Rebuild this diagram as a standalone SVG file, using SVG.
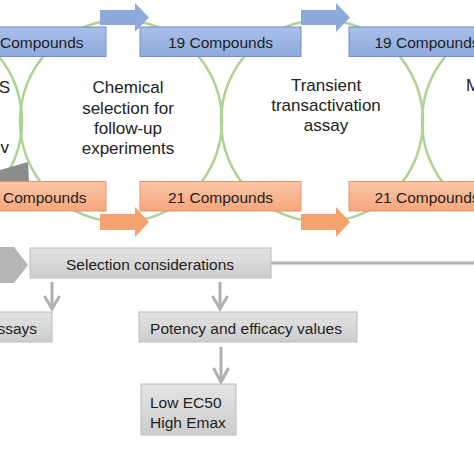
<svg xmlns="http://www.w3.org/2000/svg" width="474" height="474" viewBox="0 0 474 474">
<defs>
<linearGradient id="gb" x1="0" y1="0" x2="0" y2="1"><stop offset="0" stop-color="#a9c0e9"/><stop offset="1" stop-color="#8eaadc"/></linearGradient>
<linearGradient id="go" x1="0" y1="0" x2="0" y2="1"><stop offset="0" stop-color="#fbc6a8"/><stop offset="1" stop-color="#f6a67c"/></linearGradient>
<linearGradient id="gg" x1="0" y1="0" x2="0" y2="1"><stop offset="0" stop-color="#e4e4e4"/><stop offset="1" stop-color="#cdcdcd"/></linearGradient>
<style>
.circ{fill:none;stroke:#aed293;stroke-width:2.5}
.bbox{fill:url(#gb);stroke:#6f8fc6;stroke-width:1}
.obox{fill:url(#go);stroke:#e3946a;stroke-width:1}
.gbox{fill:url(#gg);stroke:#bcbcbc;stroke-width:1}
.barr{fill:#8eaadb}
.oarr{fill:#f4a36f}
.bt{font-family:"Liberation Sans",Arial,sans-serif;font-size:15.5px;fill:#1e1e1e}
.ct{font-family:"Liberation Sans",Arial,sans-serif;font-size:17px;fill:#222;text-anchor:middle}
.mid{text-anchor:middle}
.con{fill:none;stroke:#b0b0b0;stroke-width:3}
</style>
</defs>
<rect width="474" height="474" fill="#ffffff"/>
<g id="cycles">
<circle class="circ" cx="-79" cy="121" r="101"/>
<circle class="circ" cx="121" cy="121" r="101"/>
<circle class="circ" cx="322" cy="121" r="101"/>
<circle class="circ" cx="523" cy="121" r="101"/>
</g>
<g id="stage-labels">
<text class="ct" style="text-anchor:end" x="10" y="93">S</text>
<text class="ct" style="text-anchor:end" x="9" y="153">v</text>
<text class="ct" x="128" y="93">Chemical</text>
<text class="ct" x="128" y="113.5">selection for</text>
<text class="ct" x="128" y="134">follow-up</text>
<text class="ct" x="128" y="154">experiments</text>
<text class="ct" x="326" y="91">Transient</text>
<text class="ct" x="326" y="111">transactivation</text>
<text class="ct" x="326" y="131">assay</text>
<text class="ct" style="text-anchor:start" x="466" y="91">M</text>
</g>
<g id="connectors">
<polygon class="barr" points="100,10 135,10 135,3 149,17.5 135,32 135,25 100,25"/>
<polygon class="barr" points="301,10 336,10 336,3 350,17.5 336,32 336,25 301,25"/>
<polygon class="oarr" points="100,214 135,214 135,207 149,222 135,237 135,230 100,230"/>
<polygon class="oarr" points="301,214 336,214 336,207 350,222 336,237 336,230 301,230"/>
<polygon fill="#8c8c8c" points="0,170 28,162 29,182 0,182"/>
<polygon fill="#b5b5b5" points="-10,247 14,247 28,265 14,283 -10,283"/>
<line class="con" x1="271" y1="263" x2="474" y2="263"/>
<line class="con" x1="52" y1="282" x2="52" y2="308"/>
<polyline class="con" points="44.5,296 52,309 59.5,296"/>
<line class="con" x1="220" y1="282" x2="220" y2="308"/>
<polyline class="con" points="212.5,296 220,309 227.5,296"/>
<line class="con" x1="221" y1="347" x2="221" y2="381"/>
<polyline class="con" points="213.5,368 221,382 228.5,368"/>
</g>
<g id="blue-1"><rect class="bbox" x="-55" y="27" width="161" height="29.5"/><text class="bt" x="0" y="48">Compounds</text></g>
<g id="blue-2"><rect class="bbox" x="140" y="27" width="161" height="29.5"/><text class="bt mid" x="220.5" y="48">19 Compounds</text></g>
<g id="blue-3"><rect class="bbox" x="349" y="27" width="161" height="29.5"/><text class="bt mid" x="427" y="48">19 Compounds</text></g>
<g id="orange-1"><rect class="obox" x="-55" y="181.5" width="161" height="29.5"/><text class="bt" x="3" y="203">Compounds</text></g>
<g id="orange-2"><rect class="obox" x="140" y="181.5" width="161" height="29.5"/><text class="bt mid" x="220.5" y="203">21 Compounds</text></g>
<g id="orange-3"><rect class="obox" x="349" y="181.5" width="161" height="29.5"/><text class="bt mid" x="427" y="203">21 Compounds</text></g>
<g id="selection"><rect class="gbox" x="30" y="248" width="241" height="30"/><text class="bt mid" x="150" y="270">Selection considerations</text></g>
<g id="assays"><rect class="gbox" x="-20" y="312" width="72" height="30"/><text class="bt" style="text-anchor:end" x="37" y="334">ssays</text></g>
<g id="potency"><rect class="gbox" x="139" y="312" width="218" height="30"/><text class="bt mid" x="246" y="334">Potency and efficacy values</text></g>
<g id="ec50"><rect class="gbox" x="141" y="384" width="95" height="51"/><text class="bt" x="150" y="408">Low EC50</text><text class="bt" x="150" y="428">High Emax</text></g>
</svg>
